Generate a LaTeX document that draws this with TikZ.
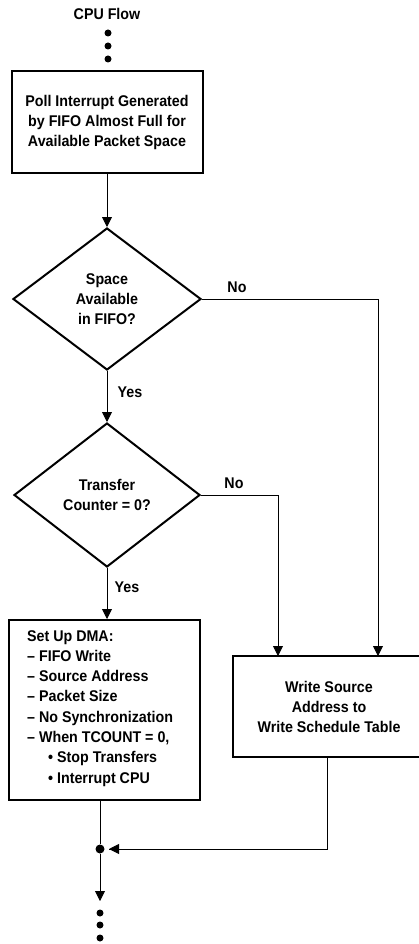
\documentclass[tikz,border=0pt]{standalone}
\usepackage{fontspec}
\setmainfont{Liberation Sans}[FakeStretch=0.92]
\usetikzlibrary{arrows.meta,shapes.geometric}

\tikzset{
  txt/.style={font=\fontsize{15.5}{20}\selectfont\bfseries},
  lbl/.style={txt, inner sep=0pt},
  procbox/.style={txt, draw, line width=2pt, rectangle, inner sep=0pt, align=center},
  decision/.style={txt, draw, line width=2pt, diamond, inner sep=0pt, align=center},
  flow/.style={line width=0.9pt, -{Triangle[length=10pt,width=10pt]}},
  plain/.style={line width=0.9pt},
  dot/.style={circle, fill, inner sep=0pt, minimum size=7pt},
}

\begin{document}
\begin{tikzpicture}[x=1pt, y=-1pt]
  \useasboundingbox (0,0) rectangle (419,944);

  % entry from the CPU flow
  \node[lbl] (title) at (107,14) {CPU Flow};
  \node[dot] (t1) at (108,33) {};
  \node[dot] (t2) at (108,46) {};
  \node[dot] (t3) at (108,59) {};

  % poll step
  \node[procbox, minimum width=191pt, minimum height=102pt] (poll) at (107,122)
    {Poll Interrupt Generated\\by FIFO Almost Full for\\Available Packet Space};

  % decisions
  \node[decision, minimum width=188pt, minimum height=142pt] (space) at (107,299)
    {Space\\Available\\in FIFO?};
  \node[decision, minimum width=186pt, minimum height=144pt] (count) at (107,495)
    {Transfer\\Counter = 0?};

  % DMA set-up box
  \node[procbox, minimum width=191pt, minimum height=180pt] (dma) at (104,710) {};
  \node[lbl, anchor=north west, align=left, font=\fontsize{15.5}{20.3}\selectfont\bfseries]
    (dmatext) at (27,630)
    {Set Up DMA:\\
     -- FIFO Write\\
     -- Source Address\\
     -- Packet Size\\
     -- No Synchronization\\
     -- When TCOUNT = 0,\\
     \hspace*{21pt}\textbullet\ Stop Transfers\\
     \hspace*{21pt}\textbullet\ Interrupt CPU};

  % schedule table box (runs past the right edge)
  \node[procbox, minimum width=192pt, minimum height=101pt] (sched) at (329,706.5)
    {Write Source\\Address to\\Write Schedule Table};

  % labels on the branches
  \node[lbl] (no1) at (237,287) {No};
  \node[lbl] (yes1) at (130,392) {Yes};
  \node[lbl] (no2) at (234,483) {No};
  \node[lbl] (yes2) at (127,587) {Yes};

  % junction and exit
  \node[dot, minimum size=9pt] (join) at (100,849) {};
  \coordinate (joinin) at (109,849);
  \coordinate (dmaout) at (100,800);
  \coordinate (exitend) at (100,901);
  \node[dot] (b1) at (100,913) {};
  \node[dot] (b2) at (100,925) {};
  \node[dot] (b3) at (100,938) {};

  % connectors
  \draw[flow] (poll.south) -- (space.north);
  \draw[flow] (space.south) -- (count.north);
  \draw[flow] (count.south) -- (count.south |- dma.north);
  \draw[flow] (space.east) -- (378,299) -- (378,656);
  \draw[flow] (count.east) -- (278,495) -- (278,656);
  \draw[plain] (sched.south -| 327,0) -- (327,849) -- (joinin);
  \draw[flow] (327,849) -- (joinin);
  \draw[plain] (dmaout) -- (join);
  \draw[flow] (join) -- (exitend);
\end{tikzpicture}
\end{document}
